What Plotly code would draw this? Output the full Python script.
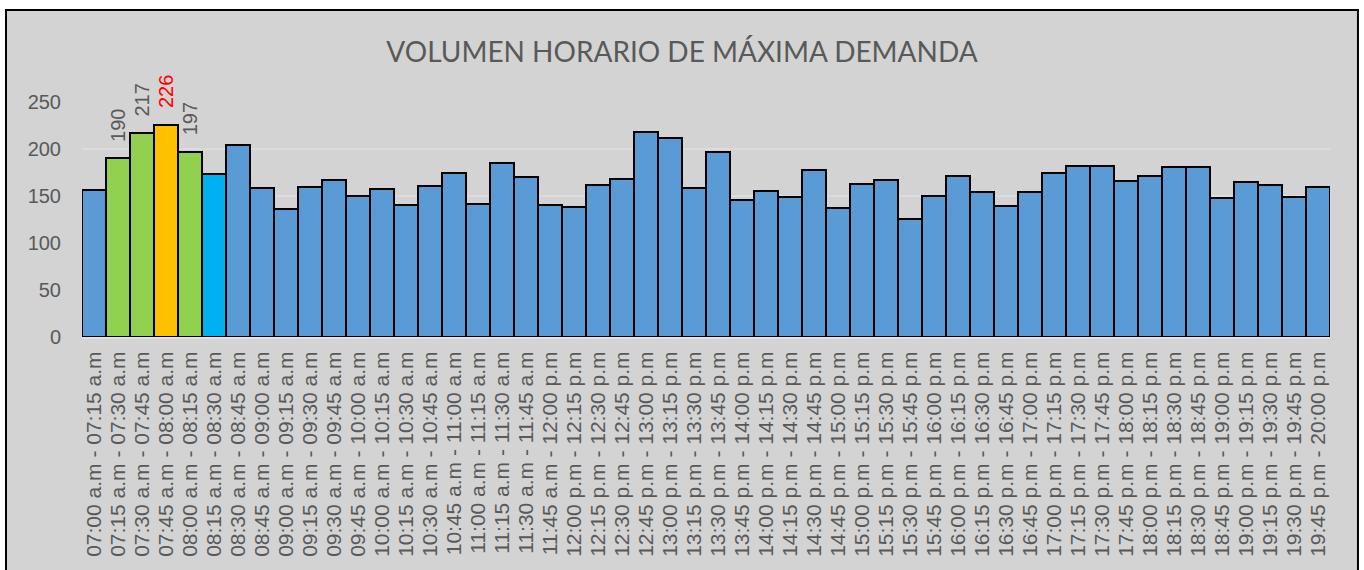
import plotly.graph_objects as go

starts = ["07:00", "07:15", "07:30", "07:45", "08:00", "08:15", "08:30", "08:45",
          "09:00", "09:15", "09:30", "09:45", "10:00", "10:15", "10:30", "10:45",
          "11:00", "11:15", "11:30", "11:45", "12:00", "12:15", "12:30", "12:45",
          "13:00", "13:15", "13:30", "13:45", "14:00", "14:15", "14:30", "14:45",
          "15:00", "15:15", "15:30", "15:45", "16:00", "16:15", "16:30", "16:45",
          "17:00", "17:15", "17:30", "17:45", "18:00", "18:15", "18:30", "18:45",
          "19:00", "19:15", "19:30", "19:45"]
ends = starts[1:] + ["20:00"]
periods = ["a.m" if int(s[:2]) < 12 else "p.m" for s in starts]
end_periods = ["a.m" if int(e[:2]) < 12 else "p.m" for e in ends]
categories = [f"{s} {p} - {e} {q}" for s, p, e, q in zip(starts, periods, ends, end_periods)]

values = [156, 190, 217, 226, 197, 173, 204, 159, 136, 160, 167, 150, 157, 140,
          161, 175, 142, 185, 170, 140, 138, 162, 168, 218, 212, 159, 197, 146,
          155, 149, 178, 137, 163, 167, 126, 150, 171, 154, 139, 154, 174, 182,
          182, 166, 171, 181, 181, 148, 165, 162, 149, 160]

bar_colors = ["#5B9BD5", "#92D050", "#92D050", "#FFC000", "#92D050", "#00B0F0"] + ["#5B9BD5"] * 46

label_idx = [1, 2, 3, 4]
label_colors = ["#595959", "#595959", "#FF0000", "#595959"]

y_ticks = [0, 50, 100, 150, 200, 250]

fig = go.Figure()
fig.add_trace(go.Bar(
    x=categories, y=values,
    marker=dict(color=bar_colors, line=dict(color="#000000", width=2)),
    hoverinfo="x+y",
))

for i, c in zip(label_idx, label_colors):
    fig.add_annotation(
        x=categories[i], y=values[i], text=str(values[i]),
        textangle=-90, showarrow=False, yanchor="bottom", xanchor="center",
        yshift=14,
        font=dict(family="Liberation Sans, Arial", size=20, color=c),
    )

# outer chart frame
fig.add_shape(type="rect", xref="paper", yref="paper",
              x0=-0.0609, x1=1.0224, y0=-1.05, y1=1.3915,
              fillcolor="#D3D3D3", line=dict(color="#000000", width=2), layer="below")

fig.update_layout(
    width=1364, height=570,
    margin=dict(l=82, r=34, t=102, b=233),
    paper_bgcolor="#FFFFFF",
    plot_bgcolor="rgba(0,0,0,0)",
    bargap=0,
    showlegend=False,
    title=dict(text="VOLUMEN HORARIO DE MÁXIMA DEMANDA", x=0.5, xanchor="center",
               y=1 - 52 / 570, yanchor="middle",
               font=dict(family="Lato, Open Sans", size=28, color="#595959")),
    font=dict(family="Liberation Sans, Arial", color="#595959"),
)
fig.update_xaxes(
    tickmode="array", tickvals=categories, ticktext=categories,
    tickangle=-90, tickfont=dict(size=21, color="#595959"),
    showline=True, linecolor="#E3E3E3", linewidth=2,
    showgrid=False, ticks="", ticklabelstandoff=4,
)
fig.update_yaxes(
    range=[0, 250], tickvals=y_ticks,
    tickfont=dict(size=20, color="#595959"),
    showgrid=True, gridcolor="#DCDCDC", gridwidth=2,
    zeroline=False, ticks="", ticklabelstandoff=20,
)

fig.write_html("out.html", config={"displayModeBar": False},
               post_script="document.body.style.margin='0';document.body.style.overflow='hidden';")
